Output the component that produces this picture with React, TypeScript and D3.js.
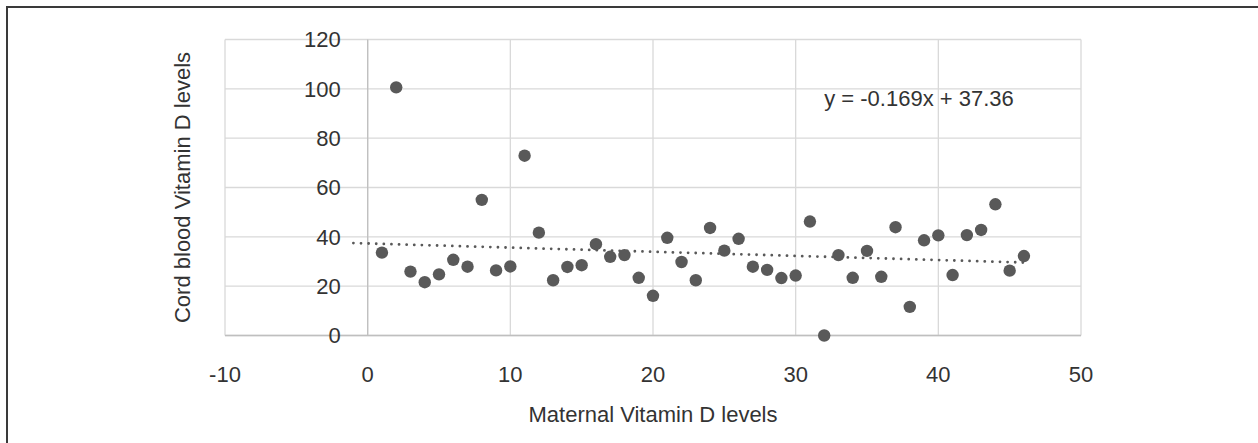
import React, { FC } from 'react'
import * as d3 from 'd3'

// maternal sample index (x) and cord blood vitamin D (y)
const maternal = d3.range(1, 47)
const cordBlood = [
	33.6, 100.6, 25.9, 21.6, 24.8, 30.7, 27.9, 55.0, 26.4, 28.0,
	72.9, 41.7, 22.4, 27.8, 28.5, 37.0, 31.9, 32.6, 23.4, 16.1,
	39.6, 29.8, 22.4, 43.6, 34.4, 39.2, 27.9, 26.6, 23.3, 24.3,
	46.2, 0, 32.6, 23.4, 34.3, 23.8, 43.9, 11.6, 38.6, 40.6,
	24.5, 40.7, 42.8, 53.2, 26.3, 32.2
]
const xTicks = [-10, 0, 10, 20, 30, 40, 50]
const yTicks = [0, 20, 40, 60, 80, 100, 120]
const trendRange = [-1, 46]
const equationLabel = 'y = -0.169x + 37.36'
const xTitle = 'Maternal Vitamin D levels'
const yTitle = 'Cord blood Vitamin D levels'

const W = 1258
const H = 443
const plot = { left: 225, right: 1081, top: 39.5, bottom: 335.5 }
const font = '"Liberation Sans", Arial, sans-serif'
const textColor = '#333333'
const markColor = '#595959'

const App: FC = () => {
	const x = d3.scaleLinear().domain([-10, 50]).range([plot.left, plot.right])
	const y = d3.scaleLinear().domain([0, 120]).range([plot.bottom, plot.top])

	// least squares fit, like the excel trendline
	const mx = d3.mean(maternal) as number
	const my = d3.mean(cordBlood) as number
	const slope =
		d3.sum(maternal, (v, i) => (v - mx) * (cordBlood[i] - my)) /
		d3.sum(maternal, (v) => (v - mx) * (v - mx))
	const intercept = my - slope * mx
	const trend = d3
		.line<number>()
		.x((v) => x(v))
		.y((v) => y(slope * v + intercept))(trendRange)

	return (
		<svg
			width={W}
			height={H}
			style={{ position: 'absolute', left: 0, top: 0, background: '#fff' }}
		>
			<rect x={7} y={7} width={W + 100} height={H + 100} fill="#fff" stroke="#3a3a3a" strokeWidth={2} />

			{/* grid */}
			<g>
				{yTicks.map((t) => (
					<line key={'gy' + t} x1={plot.left} x2={plot.right} y1={y(t)} y2={y(t)} stroke="#d9d9d9" strokeWidth={1.3} />
				))}
				{xTicks.map((t) => (
					<line key={'gx' + t} x1={x(t)} x2={x(t)} y1={plot.top} y2={plot.bottom} stroke="#d9d9d9" strokeWidth={1.3} />
				))}
				<line x1={x(0)} x2={x(0)} y1={plot.top} y2={plot.bottom} stroke="#bfbfbf" strokeWidth={1.3} />
				<line x1={plot.left} x2={plot.right} y1={y(0)} y2={y(0)} stroke="#bfbfbf" strokeWidth={1.3} />
			</g>

			{/* tick labels */}
			<g fontFamily={font} fontSize={22} fill={textColor}>
				{yTicks.map((t) => (
					<text key={'ly' + t} x={x(0) - 27} y={y(t)} dy="0.36em" textAnchor="end">
						{t}
					</text>
				))}
				{xTicks.map((t) => (
					<text key={'lx' + t} x={x(t)} y={381.5} textAnchor="middle">
						{t}
					</text>
				))}
			</g>

			{/* trendline */}
			<path
				d={trend || ''}
				fill="none"
				stroke={markColor}
				strokeWidth={2.8}
				strokeLinecap="round"
				strokeDasharray="0.01 7.6"
			/>

			{/* points */}
			<g>
				{maternal.map((v, i) => (
					<circle key={i} cx={x(v)} cy={y(cordBlood[i])} r={6.2} fill={markColor} />
				))}
			</g>

			<text x={x(32)} y={y(93)} fontFamily={font} fontSize={22} fill={textColor}>
				{equationLabel}
			</text>

			{/* axis titles */}
			<text
				x={(plot.left + plot.right) / 2}
				y={421.5}
				textAnchor="middle"
				fontFamily={font}
				fontSize={22}
				fill={textColor}
			>
				{xTitle}
			</text>
			<text
				transform={`translate(189.5,${(plot.top + plot.bottom) / 2}) rotate(-90)`}
				textAnchor="middle"
				fontFamily={font}
				fontSize={22}
				fill={textColor}
			>
				{yTitle}
			</text>
		</svg>
	)
}

export default App
